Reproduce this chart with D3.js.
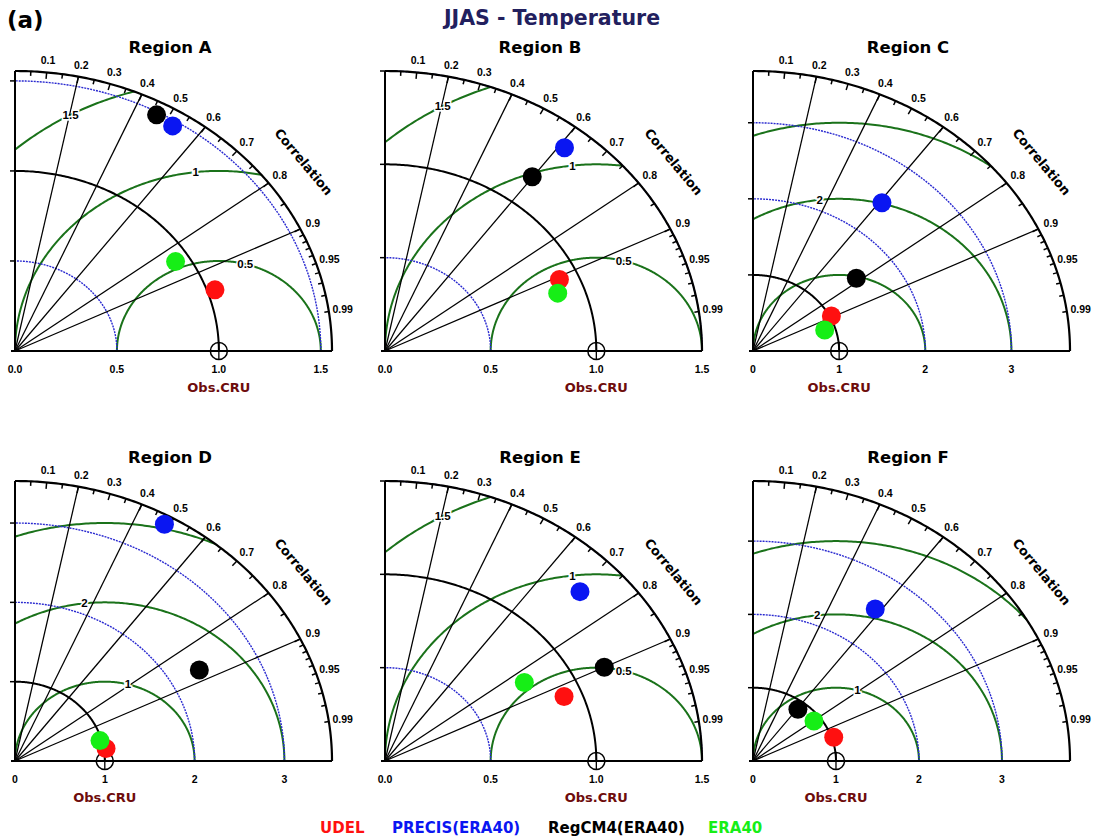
<!DOCTYPE html>
<html>
<head>
<meta charset="utf-8">
<script src="https://cdn.jsdelivr.net/npm/d3@7"></script>
<style>
  html, body { margin: 0; padding: 0; background: #fff; }
  svg { display: block; }
</style>
</head>
<body>
<svg id="chart" width="1099" height="840"></svg>
<script>
// ---- Data -------------------------------------------------------------
const regionNames = ["Region A", "Region B", "Region C", "Region D", "Region E", "Region F"];
const modelNames  = ["UDEL", "PRECIS(ERA40)", "RegCM4(ERA40)", "ERA40"];
const modelColors = ["#ff1010", "#0a16f2", "#000000", "#16ee16"];

// Normalised standard deviation and correlation with Obs.CRU, regions A..F
const udelStd    = [1.038, 0.910, 1.020, 1.026, 0.915, 1.025];
const udelCorr   = [0.945, 0.907, 0.892, 0.988, 0.926, 0.949];
const precisStd  = [1.470, 1.381, 2.458, 3.417, 1.294, 2.544];
const precisCorr = [0.526, 0.615, 0.609, 0.487, 0.713, 0.579];
const regcmStd   = [1.484, 1.165, 1.534, 2.351, 1.153, 0.889];
const regcmCorr  = [0.468, 0.598, 0.782, 0.873, 0.900, 0.609];
const era40Std   = [0.931, 0.874, 0.877, 0.981, 0.782, 0.915];
const era40Corr  = [0.846, 0.935, 0.949, 0.965, 0.843, 0.803];

// Axis settings per region
const stdAxisMax     = [1.555, 1.5, 3.68, 3.53, 1.5, 3.82];
const stdTicksFine   = [0, 0.5, 1, 1.5];
const stdLabelsFine  = ["0.0", "0.5", "1.0", "1.5"];
const stdTicksCoarse = [0, 1, 2, 3];
const stdLabelsCoarse= ["0", "1", "2", "3"];
const stdArcsFine    = [0.5, 1.5];
const stdArcsCoarse  = [2, 3];
const rmsFine        = [0.5, 1, 1.5];
const rmsCoarse      = [1, 2, 3];
const refStd         = 1;
const corrRays       = [0.2, 0.4, 0.6, 0.8, 0.9];
const corrLabels     = [0.1, 0.2, 0.3, 0.4, 0.5, 0.6, 0.7, 0.8, 0.9, 0.95, 0.99];

// ---- Layout -----------------------------------------------------------
const svg = d3.select("#chart");
const W = 317, H = 280;                 // quadrant size in px
const colX = [15, 385, 753], rowY = [351, 761];
const rmsLabelAngles = [75, 96.5, 119]; // degrees, around the reference point
const FONT_A = "'Liberation Sans', Arial, sans-serif";
const FONT_V = "'DejaVu Sans', Verdana, sans-serif";

const stdSeries  = [udelStd, regcmStd, precisStd, era40Std];
const corrSeries = [udelCorr, regcmCorr, precisCorr, era40Corr];
const seriesColor = [modelColors[0], modelColors[2], modelColors[1], modelColors[3]];

const line = d3.line();

regionNames.forEach((name, i) => {
  const ox = colX[i % 3], oy = rowY[Math.floor(i / 3)];
  const rmax = stdAxisMax[i];
  const coarse = rmax > 2;
  const ticks = coarse ? stdTicksCoarse : stdTicksFine;
  const tickLabels = coarse ? stdLabelsCoarse : stdLabelsFine;
  const stdArcs = coarse ? stdArcsCoarse : stdArcsFine;
  const rmsVals = coarse ? rmsCoarse : rmsFine;

  const x = d3.scaleLinear().domain([0, rmax]).range([ox, ox + W]);
  const y = d3.scaleLinear().domain([0, rmax]).range([oy, oy - H]);
  const polar = (s, th) => [x(s * Math.cos(th)), y(s * Math.sin(th))];
  const arcPts = (s, a0, a1) => d3.range(0, 181).map(k => polar(s, a0 + (a1 - a0) * k / 180));

  const g = svg.append("g");

  // clip region: the quadrant of the diagram
  const clipId = "quad" + i;
  g.append("clipPath").attr("id", clipId)
    .append("path")
    .attr("d", line([[x(0), y(0)], ...arcPts(rmax, 0, Math.PI / 2)]) + "Z");

  // centred-RMS difference contours (around the reference point)
  const rmsG = g.append("g").attr("clip-path", `url(#${clipId})`);
  rmsVals.forEach(r => {
    const pts = d3.range(0, 361).map(k => {
      const p = Math.PI * k / 360;
      return [x(refStd + r * Math.cos(p)), y(r * Math.sin(p))];
    });
    rmsG.append("path").attr("d", line(pts))
      .attr("fill", "none").attr("stroke", "#1a721a").attr("stroke-width", 2);
  });

  // standard deviation arcs
  stdArcs.forEach(s => {
    if (s > rmax) return;
    g.append("path").attr("d", line(arcPts(s, 0, Math.PI / 2)))
      .attr("fill", "none").attr("stroke", "#2a2ad0")
      .attr("stroke-width", 1.4).attr("stroke-dasharray", "2,1");
  });

  // correlation rays
  corrRays.forEach(c => {
    const th = Math.acos(c);
    g.append("path").attr("d", line([polar(0, th), polar(rmax, th)]))
      .attr("stroke", "#000").attr("stroke-width", 1.25);
  });

  // reference standard deviation arc
  g.append("path").attr("d", line(arcPts(refStd, 0, Math.PI / 2)))
    .attr("fill", "none").attr("stroke", "#000").attr("stroke-width", 2);

  // RMS contour labels
  rmsVals.forEach((r, k) => {
    const a = rmsLabelAngles[k] * Math.PI / 180;
    const dx = refStd + r * Math.cos(a), dy = r * Math.sin(a);
    if (dx < 0.05 * rmax || Math.hypot(dx, dy) > rmax * 0.95) return;
    g.append("text")
      .attr("x", x(dx)).attr("y", y(dy)).attr("dy", "0.35em")
      .attr("text-anchor", "middle")
      .attr("font-family", FONT_A).attr("font-weight", "bold").attr("font-size", 11.5)
      .attr("stroke", "#fff").attr("stroke-width", 3).attr("paint-order", "stroke")
      .text(String(r));
  });

  // axes
  g.append("path").attr("d", line([[x(0), y(0)], [x(0), y(rmax)]]))
    .attr("stroke", "#000").attr("stroke-width", 2);
  g.append("path").attr("d", line([[x(0) - 4, y(0)], [x(rmax), y(0)]]))
    .attr("stroke", "#000").attr("stroke-width", 2);
  ticks.filter(v => v > 0).forEach(v => {
    g.append("path").attr("d", line([[x(0) - 5, y(v)], [x(0), y(v)]]))
      .attr("stroke", "#000").attr("stroke-width", 1.5);
  });
  ticks.forEach((v, k) => {
    g.append("text").attr("x", x(v)).attr("y", oy + 22)
      .attr("text-anchor", "middle")
      .attr("font-family", FONT_A).attr("font-weight", "bold").attr("font-size", 10.5)
      .text(tickLabels[k]);
  });

  // outer correlation arc with ticks
  g.append("path").attr("d", line(arcPts(rmax, 0, Math.PI / 2)))
    .attr("fill", "none").attr("stroke", "#000").attr("stroke-width", 2.2);
  const corrTicks = d3.range(1, 19).map(k => k / 20).concat(d3.range(91, 100).map(k => k / 100));
  corrTicks.forEach(c => {
    const th = Math.acos(c);
    const [px, py] = polar(rmax, th);
    const major = Math.abs(c * 10 - Math.round(c * 10)) < 1e-6;
    const len = major ? 6.5 : 4.5;
    g.append("path")
      .attr("d", line([[px, py], [px - len * Math.cos(th), py + len * Math.sin(th)]]))
      .attr("stroke", "#000").attr("stroke-width", 1.5);
  });
  corrLabels.forEach(c => {
    const th = Math.acos(c);
    const [px, py] = polar(rmax, th);
    g.append("text")
      .attr("x", px + 14 * Math.cos(th)).attr("y", py - 12 * Math.sin(th))
      .attr("dy", "0.35em").attr("text-anchor", "middle")
      .attr("font-family", FONT_A).attr("font-weight", "bold").attr("font-size", 10.5)
      .text(String(c));
  });

  // "Correlation" caption along the outer arc
  {
    const th = 36.5 * Math.PI / 180;
    const [px, py] = polar(rmax, th);
    const sx = W / rmax, sy = H / rmax;
    const rot = Math.atan2(sy * Math.cos(th), sx * Math.sin(th)) * 180 / Math.PI;
    const cx = px + 42 * Math.cos(th), cy = py - 38 * Math.sin(th);
    g.append("text")
      .attr("transform", `translate(${cx},${cy}) rotate(${rot})`)
      .attr("text-anchor", "middle").attr("dy", "0.35em")
      .attr("font-family", FONT_V).attr("font-weight", "bold").attr("font-size", 13)
      .text("Correlation");
  }

  // reference point symbol
  const rx = x(refStd), ry = y(0);
  g.append("circle").attr("cx", rx).attr("cy", ry).attr("r", 8.5)
    .attr("fill", "none").attr("stroke", "#000").attr("stroke-width", 1.5);
  g.append("path").attr("d", line([[rx - 8.5, ry], [rx + 8.5, ry]]) + line([[rx, ry - 8.5], [rx, ry + 8.5]]))
    .attr("stroke", "#000").attr("stroke-width", 1.3);

  // reference label and region title
  g.append("text").attr("x", rx).attr("y", oy + 41).attr("text-anchor", "middle")
    .attr("font-family", FONT_V).attr("font-weight", "bold").attr("font-size", 13)
    .attr("fill", "#6e0c0c").text("Obs.CRU");
  g.append("text").attr("x", ox + 155).attr("y", oy - 298).attr("text-anchor", "middle")
    .attr("font-family", FONT_V).attr("font-weight", "bold").attr("font-size", 16.5)
    .text(name);

  // model points
  stdSeries.forEach((arr, m) => {
    const th = Math.acos(corrSeries[m][i]);
    const [px, py] = polar(arr[i], th);
    g.append("circle").attr("cx", px).attr("cy", py).attr("r", 9.5)
      .attr("fill", seriesColor[m]);
  });
});

// ---- Titles and legend -----------------------------------------------
svg.append("text").attr("x", 7).attr("y", 28)
  .attr("font-family", FONT_V).attr("font-weight", "bold").attr("font-size", 23)
  .text("(a)");
svg.append("text").attr("x", 552).attr("y", 25).attr("text-anchor", "middle")
  .attr("font-family", FONT_V).attr("font-weight", "bold").attr("font-size", 20.5)
  .attr("fill", "#22205e").text("JJAS - Temperature");

const legendX = [320, 392, 548, 708];
modelNames.forEach((n, k) => {
  svg.append("text").attr("x", legendX[k]).attr("y", 833)
    .attr("font-family", FONT_V).attr("font-weight", "bold").attr("font-size", 15)
    .attr("fill", modelColors[k]).text(n);
});
</script>
</body>
</html>
